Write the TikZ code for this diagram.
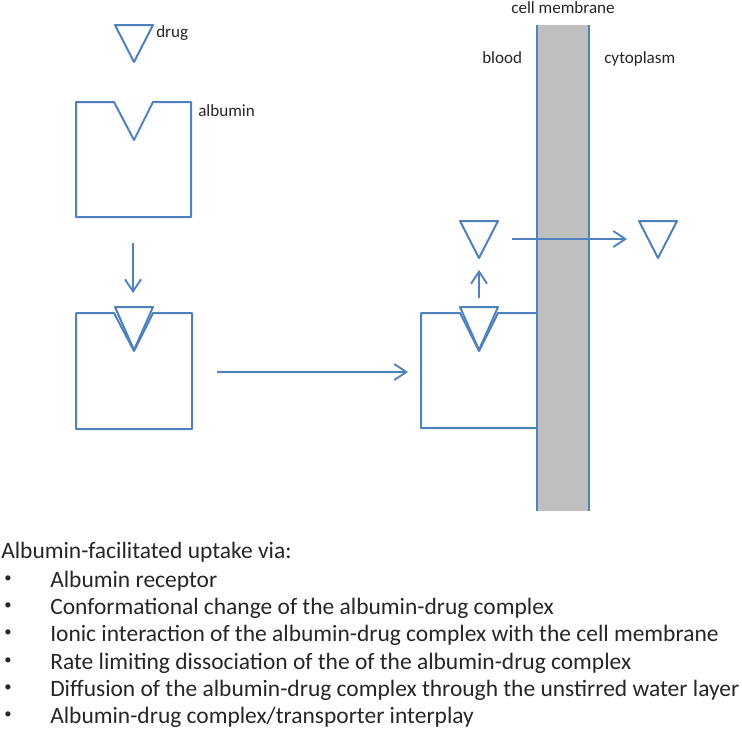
\documentclass[tikz,border=0pt]{standalone}
\usepackage{fontspec}
\setmainfont{Carlito}
\usepackage{xcolor}
\usepackage{tikz}
\usetikzlibrary{arrows.meta}
\definecolor{albblue}{RGB}{79,129,189}
\definecolor{membgray}{RGB}{191,191,191}

\begin{document}
\begin{tikzpicture}[x=0.75pt,y=0.75pt,yscale=-1,xscale=1,
  outline/.style={draw=albblue,line width=1.5pt,line join=round},
  flow/.style={draw=albblue,line width=1.4pt,-{Straight Barb[length=9pt,width=12pt,line width=1.4pt]}},
  lbl/.style={inner sep=0pt,anchor=base west,font=\fontsize{12.8}{15}\selectfont,text=black!85},
  item/.style={inner sep=0pt,anchor=base west,font=\fontsize{17.6}{21}\selectfont,text=black!85},
  dot/.style={inner sep=0pt,anchor=base west,font=\fontsize{11}{13}\selectfont,text=black!85}]
      \useasboundingbox (0,0) rectangle (742,733);
      % membrane
      \fill[membgray] (537,25) rectangle (589,511);
      \draw [albblue,line width=1.3pt] (537,25) -- (537,511);
      \draw [albblue,line width=0.9pt] (589,25) -- (589,511);
      % free drug and free albumin
      \draw [outline] (115,25) -- (153,25) -- (134,62) -- cycle;
      \draw [outline] (76,102) -- (114,102) -- (134,140) -- (153,102) -- (191,102) -- (191,217) -- (76,217) -- cycle;
      % albumin-drug complex
      \draw [outline] (76,313) -- (114,313) -- (134,351) -- (153,313) -- (192,313) -- (192,429) -- (76,429) -- cycle;
      \draw [outline,fill=white] (115,307) -- (153,307) -- (134,350) -- cycle;
      % complex at the membrane
      \draw [outline] (537,313) -- (498,313) -- (479,351) -- (460,313) -- (421,313) -- (421,428) -- (537,428);
      \draw [outline,fill=white] (460,307) -- (498,307) -- (479,350) -- cycle;
      % released drug
      \draw [outline] (460,221) -- (498,221) -- (479,258) -- cycle;
      \draw [outline] (639,221) -- (677,221) -- (658,258) -- cycle;
      % arrows
      \coordinate (bindtop) at (133,243);
      \coordinate (bindend) at (133,293);
      \coordinate (movetop) at (217,372);
      \coordinate (moveend) at (408,372);
      \coordinate (reltop) at (479,298);
      \coordinate (relend) at (479,270);
      \coordinate (uptop) at (512,239);
      \coordinate (upend) at (627,239);
      \draw [flow] (bindtop) -- (bindend);
      \draw [flow] (movetop) -- (moveend);
      \draw [flow] (reltop) -- (relend);
      \draw [flow] (uptop) -- (upend);
      % labels
      \node [lbl] (druglbl) at (156,37) {drug};
      \node [lbl] (alblbl) at (198,116) {albumin};
      \node [lbl,anchor=base] (memlbl) at (563,13) {cell membrane};
      \node [lbl] (bloodlbl) at (482,63) {blood};
      \node [lbl] (cytolbl) at (604,63) {cytoplasm};
      % list
      \node [item] (head) at (1,558) {Albumin-facilitated uptake via:};
      \node [dot] (bul1) at (4,582) {•};
      \node [dot] (bul2) at (4,609) {•};
      \node [dot] (bul3) at (4,636.5) {•};
      \node [dot] (bul4) at (4,664) {•};
      \node [dot] (bul5) at (4,691) {•};
      \node [dot] (bul6) at (4,718.5) {•};
      \node [item] (item1) at (50,587) {Albumin receptor};
      \node [item] (item2) at (50,614) {Conformational change of the albumin-drug complex};
      \node [item] (item3) at (50,641.5) {Ionic interaction of the albumin-drug complex with the cell membrane};
      \node [item] (item4) at (50,669) {Rate limiting dissociation of the of the albumin-drug complex};
      \node [item] (item5) at (50,696) {Diffusion of the albumin-drug complex through the unstirred water layer};
      \node [item] (item6) at (50,723.5) {Albumin-drug complex/transporter interplay};
\end{tikzpicture}
\end{document}
